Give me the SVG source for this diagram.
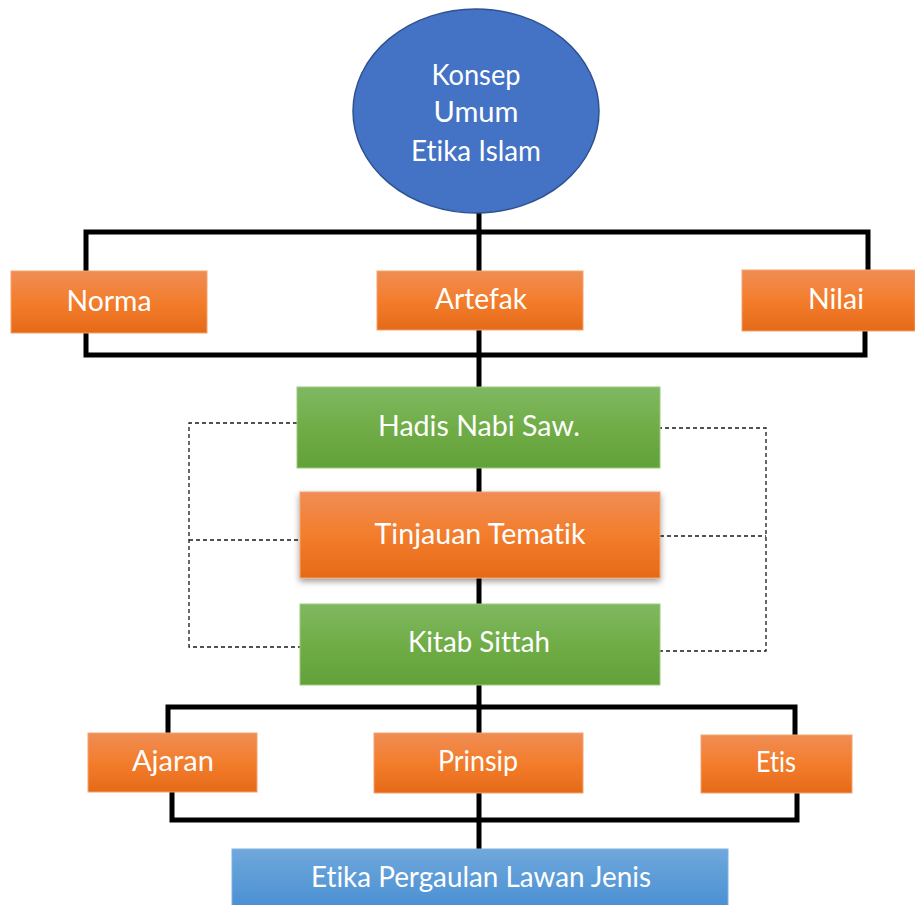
<svg xmlns="http://www.w3.org/2000/svg" width="915" height="905" viewBox="0 0 915 905">
<style>
  .lbl { font-family: Lato, "Open Sans", "DejaVu Sans", sans-serif; font-size: 29px; fill: #ffffff; text-anchor: middle; font-variant-ligatures: none; }
  .org { fill: url(#gOrange); stroke: #F4A36E; stroke-width: 1; }
  .grn { fill: url(#gGreen); stroke: #9CCB7C; stroke-width: 1; }
  .blu { fill: url(#gBlue); stroke: #7DB2E0; stroke-width: 1; }
  .solid { fill: none; stroke: #000000; stroke-width: 5; stroke-linejoin: miter; }
  .dash { fill: none; stroke: #1a1a1a; stroke-width: 1.3; stroke-dasharray: 4 3; }
</style>
<defs>
  <linearGradient id="gOrange" x1="0" y1="0" x2="0" y2="1">
    <stop offset="0" stop-color="#F08D55"/>
    <stop offset="0.5" stop-color="#F37D2C"/>
    <stop offset="1" stop-color="#E56A18"/>
  </linearGradient>
  <linearGradient id="gGreen" x1="0" y1="0" x2="0" y2="1">
    <stop offset="0" stop-color="#80B862"/>
    <stop offset="0.5" stop-color="#70AD47"/>
    <stop offset="1" stop-color="#62A03A"/>
  </linearGradient>
  <linearGradient id="gBlue" x1="0" y1="0" x2="0" y2="1">
    <stop offset="0" stop-color="#6FA8DC"/>
    <stop offset="1" stop-color="#4A8FD2"/>
  </linearGradient>
  <filter id="shadow" x="-10%" y="-20%" width="120%" height="150%">
    <feDropShadow dx="0" dy="3" stdDeviation="3" flood-color="#000000" flood-opacity="0.4"/>
  </filter>
</defs>
<rect width="915" height="905" fill="#ffffff"/>

<g id="connectors">
  <line class="solid" x1="479" y1="212" x2="479" y2="849"/>
  <polyline class="solid" points="86,272 86,232 868,232 868,272"/>
  <polyline class="solid" points="86,332 86,355 865,355 865,331"/>
  <polyline class="solid" points="168,733 168,707 795,707 795,735"/>
  <polyline class="solid" points="172,791 172,820 797,820 797,793"/>
  <polyline class="dash" points="297,423 189,423 189,647 300,647"/>
  <line class="dash" x1="189" y1="540" x2="300" y2="540"/>
  <polyline class="dash" points="658,428 766,428 766,651 653,651"/>
  <line class="dash" x1="660" y1="536" x2="766" y2="536"/>
</g>

<g id="konsep">
  <ellipse cx="476" cy="111" rx="123" ry="102" fill="#4472C4" stroke="#2F528F" stroke-width="1.5"/>
  <text class="lbl" x="476" y="85" textLength="89" lengthAdjust="spacingAndGlyphs">Konsep</text>
  <text class="lbl" x="476" y="122" textLength="85" lengthAdjust="spacingAndGlyphs">Umum</text>
  <text class="lbl" x="476" y="161" textLength="130" lengthAdjust="spacingAndGlyphs">Etika Islam</text>
</g>

<g id="norma">
  <rect class="org" x="11" y="271" width="196" height="62"/>
  <text class="lbl" x="109" y="311" textLength="85" lengthAdjust="spacingAndGlyphs">Norma</text>
</g>
<g id="artefak">
  <rect class="org" x="377" y="271" width="206" height="59"/>
  <text class="lbl" x="481" y="309" textLength="92" lengthAdjust="spacingAndGlyphs">Artefak</text>
</g>
<g id="nilai">
  <rect class="org" x="742" y="270" width="173" height="61"/>
  <text class="lbl" x="836" y="309" textLength="56" lengthAdjust="spacingAndGlyphs">Nilai</text>
</g>

<g id="hadis">
  <rect class="grn" x="297" y="387" width="363" height="81"/>
  <text class="lbl" x="479" y="436" textLength="202" lengthAdjust="spacingAndGlyphs">Hadis Nabi Saw.</text>
</g>
<g id="tinjauan">
  <rect class="org" x="300" y="492" width="360" height="86" filter="url(#shadow)" stroke="none"/>
  <text class="lbl" x="480" y="544" textLength="211" lengthAdjust="spacingAndGlyphs">Tinjauan Tematik</text>
</g>
<g id="kitab">
  <rect class="grn" x="300" y="604" width="360" height="81"/>
  <text class="lbl" x="479" y="652" textLength="142" lengthAdjust="spacingAndGlyphs">Kitab Sittah</text>
</g>

<g id="ajaran">
  <rect class="org" x="88" y="733" width="169" height="59"/>
  <text class="lbl" x="173" y="771" textLength="82" lengthAdjust="spacingAndGlyphs">Ajaran</text>
</g>
<g id="prinsip">
  <rect class="org" x="374" y="733" width="209" height="60"/>
  <text class="lbl" x="478" y="771" textLength="80" lengthAdjust="spacingAndGlyphs">Prinsip</text>
</g>
<g id="etis">
  <rect class="org" x="701" y="735" width="151" height="58"/>
  <text class="lbl" x="776" y="772" textLength="40" lengthAdjust="spacingAndGlyphs">Etis</text>
</g>

<g id="etika-pergaulan">
  <rect class="blu" x="232" y="849" width="496" height="60"/>
  <text class="lbl" x="481" y="887" textLength="340" lengthAdjust="spacingAndGlyphs">Etika Pergaulan Lawan Jenis</text>
</g>
</svg>
